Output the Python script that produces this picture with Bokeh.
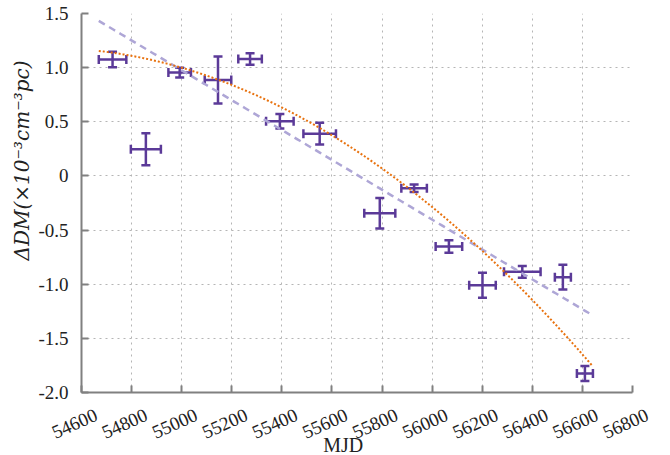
import numpy as np
from bokeh.plotting import figure
from bokeh.layouts import column
from bokeh.models import (ColumnDataSource, Whisker, TeeHead, Range1d, FixedTicker, Title)
from bokeh.core.properties import value
from bokeh.embed import file_html
from bokeh.resources import INLINE

# ---- data ----
mjd = [54724, 54857, 54992, 55145, 55273, 55392, 55551, 55791, 55928, 56067, 56201, 56360, 56522, 56610]
mjd_err = [55, 60, 45, 53, 47, 55, 65, 62, 51, 53, 53, 73, 32, 32]
ddm = [1.075, 0.247, 0.954, 0.886, 1.080, 0.505, 0.390, -0.345, -0.114, -0.652, -1.009, -0.886, -0.935, -1.825]
ddm_err = [0.072, 0.148, 0.046, 0.218, 0.054, 0.066, 0.100, 0.141, 0.035, 0.057, 0.115, 0.054, 0.114, 0.069]

# fitted models, in t = (MJD - 55600) / 1000
fit_center = 55600
fit_scale = 1000
fit_lin = [0.148, -1.379]          # a + b t
fit_quad = [0.375, -1.409, -0.614] # a + b t + c t^2
fit_range = [54669, 56642]

x_ticks = [54600, 54800, 55000, 55200, 55400, 55600, 55800, 56000, 56200, 56400, 56600, 56800]
x_tick_labels = [str(t) for t in x_ticks]
y_ticks = [-2.0, -1.5, -1.0, -0.5, 0.0, 0.5, 1.0, 1.5]
y_tick_labels = ["-2.0", "-1.5", "-1.0", "-0.5", "0", "0.5", "1.0", "1.5"]
x_title = "MJD"
y_title = "ΔDM(×10⁻³cm⁻³pc)"

# ---- layout / style ----
PURPLE = "#5b3a98"
ORANGE = "#e8720f"
LAVENDER = "#aea6d6"
AXIS = "#808080"
SERIF = "Liberation Serif"
TXT = "#222222"
W, H_MAIN, H_BOTTOM = 670, 403, 52
LEFT, RIGHT, TOP, BOTTOM = 81, 38, 13, 11
X0, X1 = x_ticks[0], x_ticks[-1]
LABEL_ROW, TITLE_ROW = 20, 41   # px below the main figure
LABEL_DX = -7                   # px shift of rotated tick labels
X_TITLE_AT = 55645              # horizontal centre of the x title (MJD units)

p = figure(width=W, height=H_MAIN, output_backend="svg", toolbar_location=None,
           x_range=Range1d(X0, X1), y_range=Range1d(y_ticks[0], y_ticks[-1]),
           min_border_left=LEFT, min_border_right=RIGHT, min_border_top=TOP,
           min_border_bottom=BOTTOM)
p.frame_align = False
p.outline_line_color = None
p.background_fill_color = "white"

# fit curves
tt = np.linspace((fit_range[0] - fit_center) / fit_scale, (fit_range[1] - fit_center) / fit_scale, 200)
xx = tt * fit_scale + fit_center
lin = fit_lin[0] + fit_lin[1] * tt
quad = fit_quad[0] + fit_quad[1] * tt + fit_quad[2] * tt ** 2
p.line(xx, lin, line_color=LAVENDER, line_width=2.5, line_dash="7 5")
p.line(xx, quad, line_color=ORANGE, line_width=2, line_dash="2 2")

# error bars
src = ColumnDataSource(dict(
    x=mjd, y=ddm,
    xl=[m - e for m, e in zip(mjd, mjd_err)], xu=[m + e for m, e in zip(mjd, mjd_err)],
    yl=[v - e for v, e in zip(ddm, ddm_err)], yu=[v + e for v, e in zip(ddm, ddm_err)],
))
def head():
    return TeeHead(size=9, line_color=PURPLE, line_width=2.5)
p.add_layout(Whisker(source=src, base="x", lower="yl", upper="yu", dimension="height",
                     line_color=PURPLE, line_width=2.5, upper_head=head(), lower_head=head()))
p.add_layout(Whisker(source=src, base="y", lower="xl", upper="xu", dimension="width",
                     line_color=PURPLE, line_width=2.5, upper_head=head(), lower_head=head()))

# y axis
ya = p.yaxis[0]
ya.ticker = FixedTicker(ticks=y_ticks)
ya.major_label_overrides = {t: l for t, l in zip(y_ticks, y_tick_labels)}
ya.major_tick_in = 7
ya.major_tick_out = 0
ya.major_tick_line_width = 2
ya.major_tick_line_color = AXIS
ya.minor_tick_line_color = None
ya.major_label_standoff = 13
ya.major_label_text_font = SERIF
ya.major_label_text_font_size = "19px"
ya.major_label_text_color = TXT

# x axis: line + inward ticks only (labels are drawn in the strip below)
xa = p.xaxis[0]
xa.ticker = FixedTicker(ticks=[], minor_ticks=x_ticks)
xa.major_tick_line_color = None
xa.minor_tick_in = 7
xa.minor_tick_out = 0
xa.minor_tick_line_width = 2
xa.minor_tick_line_color = AXIS
for ax in (xa, ya):
    ax.axis_line_color = AXIS
    ax.axis_line_width = 2

p.xgrid[0].ticker = FixedTicker(ticks=x_ticks)
p.ygrid[0].ticker = FixedTicker(ticks=y_ticks)
p.grid.grid_line_color = "#b5b5b5"
p.grid.grid_line_dash = "2 4"
p.grid.grid_line_width = 1

p.add_layout(Title(text=y_title, align="left", offset=132, standoff=4,
                   text_font="DejaVu Serif", text_font_size="20px", text_font_style="italic",
                   text_color=TXT), "left")

# strip below: rotated tick labels and x title, on the same x scale as the frame
scale = (X1 - X0) / (W - LEFT - RIGHT)
pb = figure(width=W, height=H_BOTTOM, output_backend="svg", toolbar_location=None,
            x_range=Range1d(X0 - LEFT * scale, X0 + (W - LEFT) * scale),
            y_range=Range1d(H_BOTTOM, 0), x_axis_type=None, y_axis_type=None,
            min_border=0)
pb.frame_align = False
pb.outline_line_color = None
lab_src = ColumnDataSource(dict(x=x_ticks, y=[LABEL_ROW] * len(x_ticks), text=x_tick_labels))
pb.text(x="x", y="y", text="text", source=lab_src, angle=0.42, x_offset=LABEL_DX,
        text_align="center", text_baseline="middle", text_font=value(SERIF),
        text_font_size="19px", text_color=TXT)
pb.text(x=[X_TITLE_AT], y=[TITLE_ROW], text=[x_title], text_align="center",
        text_baseline="middle", text_font=value(SERIF), text_font_size="20px", text_color=TXT)

layout = column(p, pb, spacing=0)
open("out.html", "w").write(file_html(layout, INLINE))
